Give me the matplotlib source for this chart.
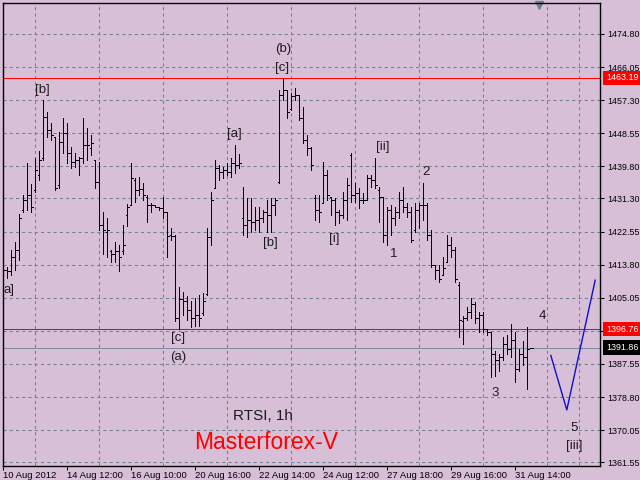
import matplotlib
matplotlib.use('Agg')
import matplotlib.pyplot as plt
import matplotlib.transforms as mtransforms
import numpy as np

plt.rcParams['font.family'] = ['Liberation Sans', 'DejaVu Sans']

# ---------------- data ----------------
opens = [
    1415.1, 1412.5, 1412.0, 1415.7, 1417.8, 1428.3, 1431.0, 1432.3, 1433.6, 1437.6,
    1442.1, 1452.9, 1449.5, 1447.6, 1434.9, 1446.3, 1448.7, 1443.4, 1441.0, 1441.5,
    1442.1, 1445.5, 1444.7, 1441.5, 1435.7, 1424.4, 1422.5, 1417.3, 1416.5, 1417.3,
    1417.3, 1427.0, 1429.7, 1436.3, 1433.6, 1433.9, 1431.8, 1429.7, 1429.7, 1429.1,
    1428.9, 1427.6, 1421.7, 1421.5, 1399.8, 1404.6, 1404.1, 1401.9, 1399.8, 1400.6,
    1401.0, 1406.0, 1421.0, 1434.2, 1439.4, 1438.4, 1438.9, 1438.4, 1440.8, 1440.2,
    1426.2, 1424.4, 1425.7, 1425.2, 1425.7, 1426.2, 1427.6, 1427.0, 1429.7, 1435.7,
    1458.7, 1460.0, 1455.0, 1458.4, 1458.7, 1452.6, 1446.8, 1444.7, 1431.5, 1428.3,
    1430.2, 1437.6, 1431.8, 1431.0, 1427.6, 1427.0, 1431.0, 1442.9, 1432.3, 1432.8,
    1431.0, 1431.0, 1436.8, 1436.3, 1433.6, 1431.8, 1421.7, 1428.3, 1426.2, 1427.8,
    1431.0, 1429.1, 1427.8, 1423.1, 1428.3, 1429.7, 1429.7, 1421.7, 1413.8, 1412.5,
    1411.2, 1414.4, 1419.1, 1417.8, 1408.5, 1398.8, 1399.8, 1401.4, 1403.3, 1399.8,
    1400.6, 1396.7, 1395.9, 1390.1, 1388.7, 1389.3, 1392.7, 1391.4, 1394.0, 1386.1,
    1390.1, 1389.3, 1391.86]
highs = [
    1421.0, 1413.3, 1417.8, 1419.9, 1427.3, 1432.3, 1440.8, 1435.2, 1442.1, 1443.9,
    1457.4, 1454.2, 1451.3, 1447.6, 1448.9, 1452.6, 1451.3, 1445.0, 1443.4, 1442.3,
    1452.6, 1450.0, 1448.1, 1441.5, 1441.0, 1427.6, 1426.2, 1417.8, 1419.9, 1419.1,
    1424.4, 1429.9, 1440.8, 1436.8, 1437.1, 1435.5, 1432.3, 1430.2, 1429.7, 1429.1,
    1431.8, 1427.8, 1423.6, 1421.7, 1408.0, 1406.7, 1405.4, 1404.1, 1405.1, 1405.9,
    1406.4, 1423.6, 1433.1, 1441.5, 1440.2, 1439.7, 1440.8, 1442.1, 1445.5, 1443.1,
    1434.4, 1431.5, 1431.5, 1429.1, 1429.1, 1428.3, 1431.0, 1431.5, 1431.5, 1460.0,
    1463.19, 1460.0, 1459.2, 1460.6, 1458.7, 1455.5, 1448.1, 1445.0, 1432.3, 1432.3,
    1441.0, 1438.9, 1431.8, 1431.5, 1428.3, 1433.1, 1436.8, 1443.4, 1435.5, 1434.2,
    1432.8, 1437.6, 1437.6, 1442.1, 1434.4, 1431.8, 1429.1, 1429.7, 1429.1, 1433.1,
    1434.4, 1430.2, 1429.1, 1430.2, 1430.2, 1435.5, 1430.2, 1423.1, 1413.8, 1413.8,
    1415.9, 1421.7, 1421.0, 1418.6, 1409.3, 1400.1, 1402.5, 1405.1, 1403.8, 1401.4,
    1401.2, 1396.7, 1395.9, 1390.9, 1390.1, 1394.8, 1395.3, 1398.0, 1395.9, 1391.4,
    1393.5, 1397.2, 1391.86]
lows = [
    1410.9, 1410.4, 1411.2, 1412.5, 1415.1, 1427.6, 1428.3, 1427.6, 1433.1, 1436.3,
    1441.5, 1447.6, 1446.8, 1433.6, 1434.2, 1443.4, 1440.8, 1439.4, 1439.7, 1437.6,
    1440.8, 1441.5, 1442.9, 1434.2, 1423.1, 1416.5, 1415.9, 1414.6, 1414.6, 1412.2,
    1416.7, 1424.1, 1429.7, 1430.5, 1432.3, 1431.0, 1425.2, 1427.8, 1429.1, 1428.3,
    1426.2, 1415.9, 1420.4, 1398.8, 1396.76, 1400.6, 1399.3, 1397.2, 1397.5, 1397.5,
    1400.6, 1405.9, 1419.1, 1434.2, 1436.3, 1436.8, 1437.6, 1437.1, 1438.1, 1439.4,
    1421.7, 1421.0, 1422.5, 1423.1, 1422.5, 1425.2, 1422.5, 1422.5, 1427.0, 1435.5,
    1457.4, 1452.6, 1454.7, 1457.4, 1452.1, 1446.0, 1442.9, 1438.9, 1425.7, 1425.2,
    1430.2, 1431.0, 1427.0, 1424.4, 1424.9, 1426.2, 1425.7, 1430.5, 1430.5, 1428.9,
    1430.2, 1431.0, 1434.4, 1434.2, 1425.2, 1419.9, 1419.1, 1421.7, 1424.4, 1426.2,
    1427.8, 1426.5, 1419.9, 1422.5, 1423.6, 1425.7, 1420.4, 1413.3, 1409.9, 1409.1,
    1411.2, 1414.4, 1415.9, 1409.3, 1394.6, 1392.7, 1399.3, 1399.8, 1398.5, 1396.1,
    1395.9, 1395.3, 1384.0, 1384.3, 1385.6, 1388.7, 1390.1, 1389.3, 1382.9, 1385.6,
    1387.4, 1380.8, 1391.86]
closes = [
    1412.5, 1412.0, 1415.7, 1417.8, 1426.2, 1431.0, 1432.3, 1429.1, 1438.9, 1441.5,
    1452.9, 1449.5, 1448.1, 1434.2, 1446.3, 1448.7, 1443.4, 1441.0, 1441.5, 1442.1,
    1445.5, 1445.5, 1446.0, 1435.7, 1424.4, 1423.1, 1423.1, 1416.5, 1417.3, 1415.7,
    1419.1, 1429.1, 1436.8, 1433.6, 1433.9, 1432.3, 1429.7, 1429.7, 1429.1, 1428.9,
    1427.6, 1421.5, 1421.5, 1399.8, 1404.6, 1404.1, 1401.9, 1399.8, 1400.6, 1399.8,
    1404.1, 1421.0, 1431.0, 1439.4, 1438.4, 1438.9, 1438.4, 1440.8, 1440.2, 1440.8,
    1424.4, 1425.7, 1425.2, 1425.7, 1426.2, 1427.6, 1427.0, 1429.7, 1431.0, 1458.7,
    1460.0, 1454.2, 1458.4, 1458.7, 1452.6, 1446.8, 1444.7, 1440.2, 1428.3, 1427.8,
    1437.6, 1432.3, 1431.0, 1427.6, 1427.0, 1431.0, 1434.9, 1432.3, 1432.8, 1431.0,
    1431.0, 1436.8, 1436.3, 1434.9, 1431.8, 1421.7, 1428.3, 1426.2, 1427.8, 1431.0,
    1429.1, 1427.8, 1420.4, 1428.3, 1429.7, 1429.7, 1421.7, 1413.8, 1412.5, 1409.9,
    1413.0, 1419.1, 1417.8, 1409.9, 1399.3, 1399.8, 1401.4, 1403.3, 1399.8, 1400.6,
    1396.7, 1395.9, 1390.1, 1388.7, 1389.3, 1392.7, 1391.4, 1394.0, 1386.1, 1390.1,
    1389.3, 1391.4, 1391.86]

price_ticks = [1474.80, 1466.05, 1457.30, 1448.55, 1439.80, 1431.30, 1422.55,
               1413.80, 1405.05, 1396.30, 1387.55, 1378.80, 1370.05, 1361.55]
time_labels = ['10 Aug 2012', '14 Aug 12:00', '16 Aug 10:00', '20 Aug 16:00',
               '22 Aug 14:00', '24 Aug 12:00', '27 Aug 18:00', '29 Aug 16:00',
               '31 Aug 14:00']
time_label_bars = [0, 16, 32, 48, 64, 80, 96, 112, 128]

red_levels = [1463.19, 1396.76]
last_price = 1391.86

forecast_bars = [136.9, 140.9, 148.0]
forecast_prices = [1389.8, 1375.4, 1409.7]

wave_texts = ['[b]', 'a]', '[a]', '(b)', '[c]', '[b]', '[i]', '[ii]', '1', '2',
              '[c]', '(a)', '3', '4', '5', '[iii]']
wave_bars = [9.8, 0.05, 57.8, 69.9, 69.8, 66.7, 82.8, 94.8, 97.7, 105.8,
             43.7, 43.7, 122.9, 134.8, 142.7, 142.8]
wave_prices = [1460.0, 1407.2, 1448.4, 1470.8, 1465.7, 1419.4, 1420.7, 1445.0,
               1416.5, 1438.4, 1394.4, 1389.3, 1379.9, 1400.2, 1370.7, 1365.8]

# ---------------- style ----------------
BG = '#D8BFD8'
GRID = '#75808f'
TXT = '#1c1c1c'
BAR_LW = 0.5
YFS = 6.4

fig = plt.figure(figsize=(6.4, 4.8), dpi=100, facecolor=BG)
ax = fig.add_axes([2.5 / 640, 14.0 / 480, 597.5 / 640, 463.5 / 480])
ax.set_facecolor(BG)

x = np.arange(len(highs))
ax.vlines(x, lows, highs, color='black', lw=BAR_LW, antialiased=False, zorder=3)
ax.hlines(opens, x - 0.4, x, color='black', lw=BAR_LW, antialiased=False, zorder=3)
ax.hlines(closes, x, x + 0.4, color='black', lw=BAR_LW, antialiased=False, zorder=3)

ax.set_xlim(-0.2, 149.2)
ax.set_ylim(1360.57, 1483.12)

# grid
ax.set_axisbelow(True)
ax.set_xticks(time_label_bars)
ax.set_xticklabels(time_labels, fontsize=6.8)
for lbl in ax.get_xticklabels():
    lbl.set_ha('left')
ax.set_xticks(np.arange(8, 149, 8), minor=True)
ax.tick_params(axis='x', which='major', length=3, width=0.75, pad=0.5, color='black')
ax.tick_params(axis='x', which='minor', length=0)
ax.grid(which='minor', axis='x', color=GRID, linestyle=(0, (3, 3)), lw=0.75)

ax.yaxis.tick_right()
ax.set_yticks(price_ticks)
ax.set_yticklabels(['' if abs(v - 1396.30) < 0.01 else f'{v:.2f}' for v in price_ticks],
                   fontsize=YFS)
ax.tick_params(axis='y', which='major', length=3, width=0.75, pad=2, color='black')
ax.grid(which='major', axis='y', color=GRID, linestyle=(0, (3, 3)), lw=0.75)

for sp in ax.spines.values():
    sp.set_color('black')
    sp.set_linewidth(1)

# levels
for lv in red_levels:
    ax.axhline(lv, color='#ff0000', lw=0.5, antialiased=False, zorder=2)
ax.axhline(last_price, color='#7d8a99', lw=0.5, antialiased=False, zorder=2)

# forecast
ax.plot(forecast_bars, forecast_prices, color='#1010c8', lw=1, zorder=3)

# price labels on the right axis
btrans = mtransforms.blended_transform_factory(ax.transAxes, ax.transData)
otrans = mtransforms.offset_copy(btrans, fig=fig, x=6, y=0, units='dots')
for lv in red_levels:
    ax.text(1.0, lv, f'{lv:.2f}', transform=otrans, ha='left', va='center',
            fontsize=YFS, color='white', clip_on=False, zorder=10,
            bbox=dict(boxstyle='square,pad=0.3', fc='#ff0000', ec='none'))
ax.text(1.0, last_price, f'{last_price:.2f}', transform=otrans, ha='left', va='center',
        fontsize=YFS, color='white', clip_on=False, zorder=10,
        bbox=dict(boxstyle='square,pad=0.3', fc='black', ec='none'))

# wave labels
for t, b, p in zip(wave_texts, wave_bars, wave_prices):
    ha = 'left' if t == 'a]' else 'center'
    ax.text(b, p, t, ha=ha, va='center', fontsize=9.5, color=TXT, zorder=5)

ax.text(64.8, 1373.9, 'RTSI, 1h', ha='center', va='center', fontsize=11, color=TXT)
ax.text(65.7, 1366.8, 'Masterforex-V', ha='center', va='center', fontsize=16.5,
        color='#ff0000')

# chart shift marker
ax.plot([0.8987], [0.9946], marker='v', ms=6, color='#708090', mec='#708090',
        transform=ax.transAxes, clip_on=False)

fig.savefig('out.png', dpi=100, facecolor=BG)
